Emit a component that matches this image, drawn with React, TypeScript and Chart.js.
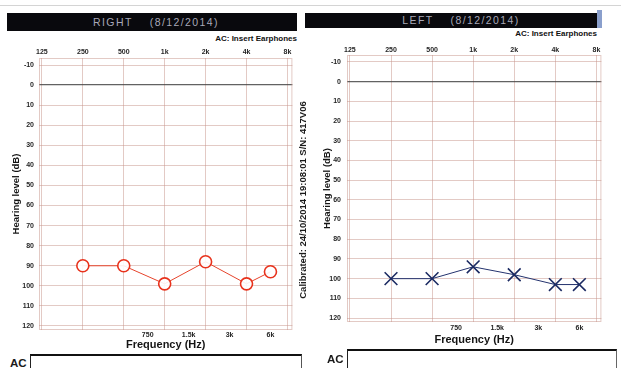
import React, { useEffect, useRef } from 'react';
import { Chart, registerables } from 'chart.js';

Chart.register(...registerables);

// ---- data ----
const frequencies = [250, 500, 1000, 2000, 4000, 6000];
const rightEarDb = [90, 90, 99, 88, 99, 93];
const leftEarDb = [100, 100, 94, 98, 103, 103];
const octaveTicks = [125, 250, 500, 1000, 2000, 4000, 8000];
const octaveLabels = ['125', '250', '500', '1k', '2k', '4k', '8k'];
const interOctaveTicks = [750, 1500, 3000, 6000];
const interOctaveLabels = ['750', '1.5k', '3k', '6k'];
const dbTicks = [-10, 0, 10, 20, 30, 40, 50, 60, 70, 80, 90, 100, 110, 120];

const FREQ_MIN = 119;
const FREQ_MAX = 8700;
const DB_MIN = -13.5;
const DB_MAX = 122;

const FONT = "'Liberation Sans', Arial, sans-serif";
const GRID = 'rgba(200,150,140,0.5)';
const TEXT = '#262626';

type Geo = {
  yWidth: number;
  topH: number;
  bottomH: number;
  padRight: number;
  yTitlePad: number;
  yTickPad: number;
  topTickPad: number;
  bottomTickPad: number;
};

type Marker = {
  label: string;
  color: string;
  lineColor: string;
  pointStyle: string;
  radius: number;
  fill: string;
};

const framePlugin = {
  id: 'frame',
  beforeDatasetsDraw(chart: any) {
    const { ctx, chartArea: a } = chart;
    ctx.save();
    ctx.strokeStyle = GRID;
    ctx.lineWidth = 1;
    ctx.strokeRect(a.left + 0.5, a.top + 0.5, a.right - a.left - 1, a.bottom - a.top - 1);
    ctx.restore();
  },
};

function makeConfig(values: number[], marker: Marker, geo: Geo): any {
  const tickFont = { family: FONT, size: 7, weight: 'bold' as const };
  return {
    type: 'line',
    data: {
      datasets: [
        {
          label: marker.label,
          data: frequencies.map((f, i) => ({ x: f, y: values[i] })),
          xAxisID: 'x',
          yAxisID: 'y',
          borderColor: marker.lineColor,
          borderWidth: 1,
          pointStyle: marker.pointStyle,
          pointRadius: marker.radius,
          pointBorderColor: marker.color,
          pointBackgroundColor: marker.fill,
          pointBorderWidth: 1.6,
          tension: 0,
          fill: false,
        },
      ],
    },
    options: {
      responsive: false,
      animation: false,
      events: [],
      layout: { padding: { left: 0, top: 0, bottom: 0, right: geo.padRight } },
      plugins: { legend: { display: false }, tooltip: { enabled: false } },
      scales: {
        x: {
          type: 'logarithmic',
          position: 'top',
          min: FREQ_MIN,
          max: FREQ_MAX,
          afterBuildTicks: (s: any) => {
            s.ticks = octaveTicks.map((v) => ({ value: v }));
          },
          afterFit: (s: any) => {
            s.height = geo.topH;
          },
          grid: { color: GRID, lineWidth: 1, drawTicks: false },
          border: { display: false },
          ticks: {
            autoSkip: false,
            maxRotation: 0,
            padding: geo.topTickPad,
            color: TEXT,
            font: tickFont,
            callback: (_v: any, i: number) => octaveLabels[i],
          },
        },
        x2: {
          type: 'logarithmic',
          position: 'bottom',
          min: FREQ_MIN,
          max: FREQ_MAX,
          afterBuildTicks: (s: any) => {
            s.ticks = interOctaveTicks.map((v) => ({ value: v }));
          },
          afterFit: (s: any) => {
            s.height = geo.bottomH;
          },
          grid: { display: false, drawTicks: false },
          border: { display: false },
          ticks: {
            autoSkip: false,
            maxRotation: 0,
            padding: geo.bottomTickPad,
            color: TEXT,
            font: tickFont,
            callback: (_v: any, i: number) => interOctaveLabels[i],
          },
          title: {
            display: true,
            text: 'Frequency (Hz)',
            color: '#151515',
            padding: 0,
            font: { family: FONT, size: 11, weight: 'bold' },
          },
        },
        y: {
          type: 'linear',
          reverse: true,
          min: DB_MIN,
          max: DB_MAX,
          afterBuildTicks: (s: any) => {
            s.ticks = dbTicks.map((v) => ({ value: v }));
          },
          afterFit: (s: any) => {
            s.width = geo.yWidth;
          },
          grid: {
            drawTicks: false,
            color: (c: any) => (c.tick && c.tick.value === 0 ? 'rgba(70,70,70,0.85)' : GRID),
            lineWidth: (c: any) => (c.tick && c.tick.value === 0 ? 1.3 : 1),
          },
          border: { display: false },
          ticks: {
            padding: geo.yTickPad,
            color: TEXT,
            font: tickFont,
            callback: (v: any) => String(v),
          },
          title: {
            display: true,
            text: 'Hearing level (dB)',
            color: '#151515',
            padding: { top: geo.yTitlePad, bottom: 0 },
            font: { family: FONT, size: 9.5, weight: 'bold' },
          },
        },
      },
    },
    plugins: [framePlugin],
  };
}

function AudiogramCanvas(props: {
  values: number[];
  marker: Marker;
  geo: Geo;
  left: number;
  top: number;
  width: number;
  height: number;
}) {
  const ref = useRef<HTMLCanvasElement | null>(null);
  useEffect(() => {
    if (!ref.current) return;
    const chart = new Chart(ref.current, makeConfig(props.values, props.marker, props.geo));
    return () => chart.destroy();
  }, []);
  return (
    <canvas
      ref={ref}
      width={props.width}
      height={props.height}
      style={{
        position: 'absolute',
        left: props.left,
        top: props.top,
        width: props.width,
        height: props.height,
      }}
    />
  );
}

const abs = (o: any): React.CSSProperties => ({ position: 'absolute', ...o });

export default function App() {
  return (
    <div
      style={{
        position: 'fixed',
        left: 0,
        top: 0,
        width: 621,
        height: 368,
        background: '#ffffff',
        overflow: 'hidden',
        fontFamily: FONT,
      }}
    >
      <div style={abs({ left: 0, top: 5, width: 621, height: 1, background: '#d4d4d4' })} />

      {/* headers */}
      <div
        style={abs({
          left: 7,
          top: 13,
          width: 290,
          height: 18,
          background: '#09090d',
          color: '#a8a8b8',
          fontSize: 10.5,
          lineHeight: '18px',
          textAlign: 'center',
          whiteSpace: 'pre',
          letterSpacing: 1.4,
          paddingLeft: 8,
          boxSizing: 'border-box',
        })}
      >
        {'RIGHT    (8/12/2014)'}
      </div>
      <div
        style={abs({
          left: 305,
          top: 13,
          width: 292,
          height: 15,
          background: '#09090d',
          color: '#a8a8b8',
          fontSize: 10.5,
          lineHeight: '15px',
          textAlign: 'center',
          whiteSpace: 'pre',
          letterSpacing: 1.4,
          paddingLeft: 20,
          boxSizing: 'border-box',
        })}
      >
        {'LEFT    (8/12/2014)'}
      </div>
      <div style={abs({ left: 597, top: 10, width: 5, height: 18, background: 'rgba(60,95,170,0.6)' })} />

      <div
        style={abs({
          left: 177,
          top: 34,
          width: 120,
          textAlign: 'right',
          fontSize: 8,
          fontWeight: 'bold',
          lineHeight: '10px',
          color: '#111',
        })}
      >
        AC: Insert Earphones
      </div>
      <div
        style={abs({
          left: 477,
          top: 29,
          width: 120,
          textAlign: 'right',
          fontSize: 8,
          fontWeight: 'bold',
          lineHeight: '10px',
          color: '#111',
        })}
      >
        AC: Insert Earphones
      </div>

      <AudiogramCanvas
        values={rightEarDb}
        marker={{
          label: 'Right AC',
          color: '#e8321c',
          lineColor: '#e6442c',
          pointStyle: 'circle',
          radius: 6,
          fill: 'rgba(255,255,255,0.9)',
        }}
        geo={{
          yWidth: 39,
          topH: 18,
          bottomH: 22,
          padRight: 7,
          yTitlePad: 11,
          yTickPad: 5,
          topTickPad: 2,
          bottomTickPad: 1,
        }}
        left={0}
        top={40}
        width={300}
        height={312}
      />
      <AudiogramCanvas
        values={leftEarDb}
        marker={{
          label: 'Left AC',
          color: '#1b2a62',
          lineColor: '#24336e',
          pointStyle: 'crossRot',
          radius: 9,
          fill: 'rgba(0,0,0,0)',
        }}
        geo={{
          yWidth: 37,
          topH: 20,
          bottomH: 25,
          padRight: 7,
          yTitlePad: 12,
          yTickPad: 6,
          topTickPad: 1,
          bottomTickPad: 2,
        }}
        left={310}
        top={35}
        width={302}
        height={312}
      />

      <div
        style={abs({
          left: 303 - 115,
          top: 200 - 5,
          width: 230,
          height: 10,
          lineHeight: '10px',
          textAlign: 'center',
          fontSize: 9.5,
          fontWeight: 'bold',
          color: '#1a1a1a',
          whiteSpace: 'nowrap',
          transform: 'rotate(-90deg)',
          transformOrigin: 'center center',
        })}
      >
        Calibrated: 24/10/2014 19:08:01 S/N: 417V06
      </div>

      {/* bottom AC boxes */}
      <div style={abs({ left: 10, top: 357, fontSize: 11.5, fontWeight: 'bold', lineHeight: '12px', color: '#1a1a1a' })}>
        AC
      </div>
      <div
        style={abs({
          left: 30,
          top: 354,
          width: 272,
          height: 20,
          borderTop: '2px solid #111',
          borderLeft: '1px solid #222',
          borderRight: '1px solid #555',
          boxSizing: 'border-box',
        })}
      />
      <div style={abs({ left: 327, top: 353, fontSize: 11.5, fontWeight: 'bold', lineHeight: '12px', color: '#1a1a1a' })}>
        AC
      </div>
      <div
        style={abs({
          left: 347,
          top: 349,
          width: 270,
          height: 25,
          borderTop: '2px solid #111',
          borderLeft: '1px solid #222',
          borderRight: '1px solid #666',
          boxSizing: 'border-box',
        })}
      />
    </div>
  );
}
